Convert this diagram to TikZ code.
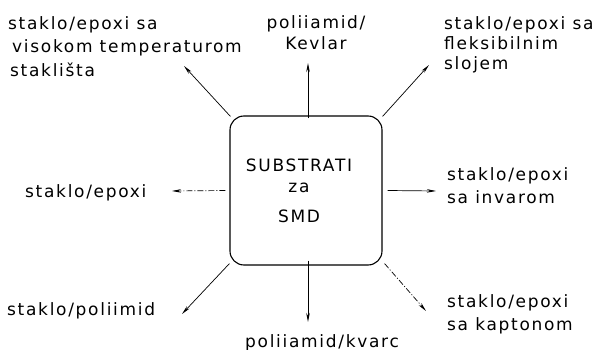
\documentclass[tikz,border=0pt]{standalone}
\usepackage{fontspec}
\setmainfont{DejaVu Sans}[LetterSpace=10]
\usetikzlibrary{arrows.meta}

\tikzset{
  lbl/.style={font=\fontsize{17}{21}\selectfont, inner sep=0pt, align=left, anchor=north west},
  arr/.style={-{Stealth[length=9pt,width=3.5pt]}, line width=0.7pt},
  dasharr/.style={arr, dash pattern=on 6pt off 2pt on 1pt off 2pt},
}

\begin{document}
\begin{tikzpicture}[x=1pt,y=-1pt]
    \useasboundingbox (0,0) rectangle (598,350);
    % central box
    \node[draw, line width=1.1pt, rounded corners=14pt, minimum width=152pt, minimum height=149pt] (box) at (306,190.5) {};
    \node[font=\fontsize{17}{21}\selectfont, align=center, inner sep=0pt] (title) at (299,191) {SUBSTRATI\\za\\[9pt]SMD};

    % labels
    \node[lbl] (tl) at (8,16) {staklo/epoxi sa\\[2.5pt]\hspace*{4pt}visokom temperaturom\\[2.5pt]\hspace*{2pt}staklišta};
    \node[lbl, anchor=north, align=center] (t) at (316,15) {poliiamid/\\Kevlar};
    \node[lbl] (tr) at (444,16) {staklo/epoxi sa\\[-1pt]fleksibilnim\\[-1pt]slojem};
    \node[lbl] (l) at (25,184) {staklo/epoxi};
    \node[lbl] (r) at (447,167) {staklo/epoxi\\[2pt]sa invarom};
    \node[lbl] (bl) at (7,302) {staklo/poliimid};
    \node[lbl, anchor=north] (b) at (322,334) {poliiamid/kvarc};
    \node[lbl] (br) at (447,294) {staklo/epoxi\\[2pt]sa kaptonom};

    % arrow tips
    \coordinate (tlend) at (184,66);
    \coordinate (tend) at (308,63);
    \coordinate (trend) at (429,65);
    \coordinate (lend) at (172,191);
    \coordinate (rend) at (436,191);
    \coordinate (blend) at (182,314);
    \coordinate (bend) at (308,322);
    \coordinate (brend) at (426,311);

    \path[draw, arr] ([xshift=1pt,yshift=-1pt]box.north west) -- (tlend);
    \path[draw, arr] ([xshift=2pt,yshift=-3pt]box.north) -- (tend);
    \path[draw, arr] ([yshift=-1pt]box.north east) -- (trend);
    \path[draw, dasharr] ([xshift=-4pt]box.west) -- (lend);
    \path[draw, arr] ([xshift=5pt]box.east) -- (rend);
    \path[draw, arr] ([yshift=2pt]box.south west) -- (blend);
    \path[draw, arr] ([xshift=2pt,yshift=5pt]box.south) -- (bend);
    \path[draw, dasharr] ([xshift=2pt,yshift=2pt]box.south east) -- (brend);
\end{tikzpicture}
\end{document}
